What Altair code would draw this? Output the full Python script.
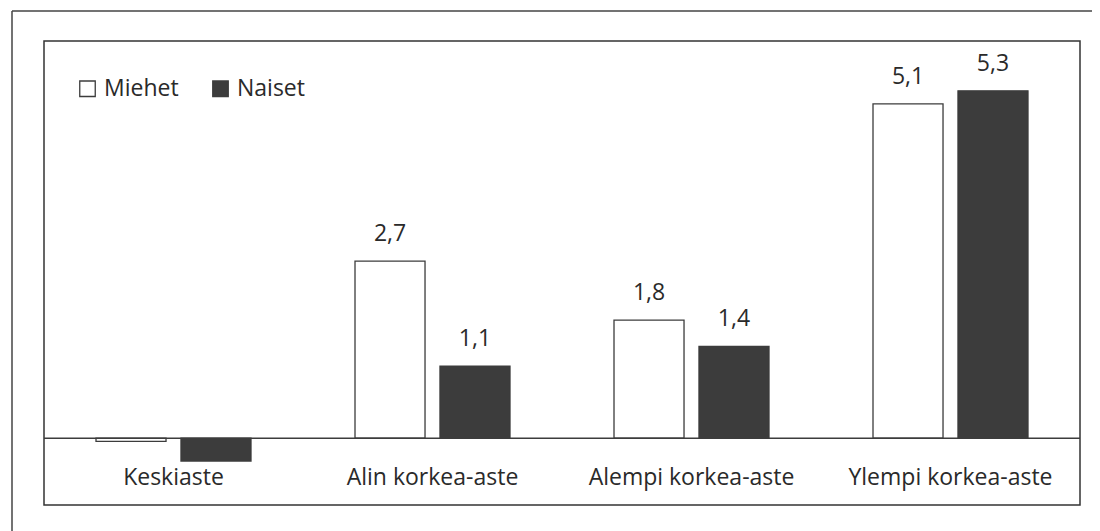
import altair as alt
import pandas as pd

categories = ["Keskiaste", "Alin korkea-aste", "Alempi korkea-aste", "Ylempi korkea-aste"]
groups = ["Miehet", "Naiset"]
miehet = [-0.05, 2.7, 1.8, 5.1]
naiset = [-0.35, 1.1, 1.4, 5.3]
show_label = [False, True, True, True]

rows = []
for i, c in enumerate(categories):
    for g, vals in (("Miehet", miehet), ("Naiset", naiset)):
        v = vals[i]
        rows.append({
            "cat": c, "group": g, "value": v,
            "label": (f"{v:.1f}".replace(".", ",") if show_label[i] else ""),
        })
df = pd.DataFrame(rows)
cat_df = pd.DataFrame({"cat": categories, "ypos": [-0.61] * len(categories)})

FONT = "Open Sans"
FS = 23
DARK = "#3c3c3c"
TXT = "#2a2a2a"

x_enc = alt.X("cat:N", sort=categories, axis=None,
              scale=alt.Scale(paddingInner=0, paddingOuter=0))
y_scale = alt.Scale(domain=[-1.02, 6.06], nice=False, zero=False)
xoff = alt.XOffset("group:N", sort=groups,
                   scale=alt.Scale(paddingInner=0.176, paddingOuter=0.612))

bars = alt.Chart(df).mark_bar(stroke=DARK, strokeWidth=1.3).encode(
    x=x_enc,
    xOffset=xoff,
    y=alt.Y("value:Q", scale=y_scale, axis=None),
    fill=alt.Fill("group:N", sort=groups,
                  scale=alt.Scale(domain=groups, range=["white", DARK]),
                  legend=alt.Legend(title=None, orient="none", legendX=32, legendY=36,
                                    direction="horizontal", symbolType="square",
                                    symbolSize=240, symbolStrokeColor=DARK,
                                    symbolStrokeWidth=1.3, labelFont=FONT,
                                    labelFontSize=FS, labelColor=TXT,
                                    columnPadding=30, symbolOffset=0, labelOffset=5)),
)

labels = alt.Chart(df).mark_text(baseline="alphabetic", dy=-20, font=FONT, fontSize=FS,
                                  color=TXT).encode(
    x=x_enc,
    xOffset=xoff,
    y=alt.Y("value:Q", scale=y_scale, axis=None),
    text="label:N",
)

cat_labels = alt.Chart(cat_df).mark_text(font=FONT, fontSize=FS, color=TXT,
                                         baseline="middle").encode(
    x=x_enc,
    y=alt.Y("ypos:Q", scale=y_scale, axis=None),
    text="cat:N",
)

zero = alt.Chart(pd.DataFrame({"z": [0]})).mark_rule(color=DARK, strokeWidth=1.5).encode(
    y=alt.Y("z:Q", scale=y_scale, axis=None)
)

outer_top = alt.Chart(pd.DataFrame({"a": [0]})).mark_rule(color="#444", strokeWidth=1.5).encode(
    x=alt.value(-32), x2=alt.value(1060), y=alt.value(-30)
)
outer_left = alt.Chart(pd.DataFrame({"a": [0]})).mark_rule(color="#444", strokeWidth=1.5).encode(
    x=alt.value(-32), y=alt.value(-30), y2=alt.value(500)
)

chart = alt.layer(bars, labels, cat_labels, zero, outer_top, outer_left).properties(
    width=1036, height=464,
    autosize=alt.AutoSizeParams(type="none"),
    padding={"left": 36, "top": 33, "right": 12, "bottom": 26},
).configure(
    background="white",
    view=alt.ViewConfig(stroke="#333333", strokeWidth=1.5),
)

chart.save("out.html", embed_options={"renderer": "svg", "actions": False})
